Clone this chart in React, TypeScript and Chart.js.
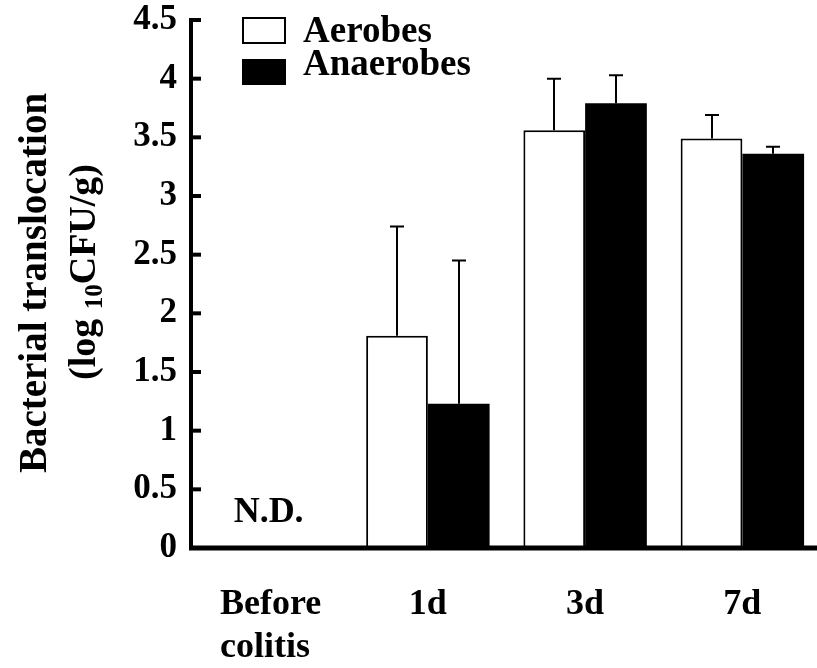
import React, { useEffect, useRef } from "react";
import { Chart, registerables } from "chart.js";

Chart.register(...registerables);

// Sampling days and measured bacterial counts (log10 CFU/g)
const categories: (string | string[])[] = [["Before", "colitis"], "1d", "3d", "7d"];
const aerobes: (number | null)[] = [null, 1.81, 3.56, 3.49];
const anaerobes: (number | null)[] = [null, 1.23, 3.79, 3.36];
const aerobesSem: (number | null)[] = [null, 0.93, 0.44, 0.2];
const anaerobesSem: (number | null)[] = [null, 1.22, 0.24, 0.06];
const yTickLabels = ["0", "0.5", "1", "1.5", "2", "2.5", "3", "3.5", "4", "4.5"];
const seriesNames = ["Aerobes", "Anaerobes"];
const notDetectedLabel = "N.D.";

const FONT = "'Liberation Serif', 'Times New Roman', serif";

const CANVAS_W = 821;
const CANVAS_H = 668;

const errorBarsPlugin = {
  id: "errorBars",
  afterDatasetsDraw(chart: any) {
    const { ctx } = chart;
    const yScale = chart.scales.y;
    const sems = [aerobesSem, anaerobesSem];
    const vals = [aerobes, anaerobes];
    ctx.save();
    ctx.strokeStyle = "#000";
    ctx.lineWidth = 2;
    ctx.lineCap = "butt";
    chart.data.datasets.forEach((_: any, di: number) => {
      const meta = chart.getDatasetMeta(di);
      meta.data.forEach((bar: any, j: number) => {
        const v = vals[di][j];
        const e = sems[di][j];
        if (v == null || e == null) return;
        const top = yScale.getPixelForValue(v + e);
        const x = Math.round(bar.x);
        ctx.beginPath();
        ctx.moveTo(x, bar.y);
        ctx.lineTo(x, top);
        ctx.moveTo(x - 7, top);
        ctx.lineTo(x + 7, top);
        ctx.stroke();
      });
    });
    ctx.restore();
  },
};

const decorPlugin = {
  id: "decor",
  afterDraw(chart: any) {
    const { ctx, chartArea } = chart;
    const xScale = chart.scales.x;
    const yScale = chart.scales.y;
    ctx.save();
    ctx.fillStyle = "#000";
    ctx.strokeStyle = "#000";

    // axes
    const axisX = chartArea.left - 1;
    ctx.lineWidth = 4;
    ctx.beginPath();
    ctx.moveTo(axisX, chartArea.top - 2);
    ctx.lineTo(axisX, chartArea.bottom + 2);
    ctx.stroke();
    ctx.lineWidth = 5;
    ctx.beginPath();
    ctx.moveTo(axisX - 2, chartArea.bottom);
    ctx.lineTo(chartArea.right, chartArea.bottom);
    ctx.stroke();

    // inward ticks on the value axis
    ctx.lineWidth = 4;
    yScale.ticks.forEach((t: any) => {
      const y = yScale.getPixelForValue(t.value);
      ctx.beginPath();
      ctx.moveTo(axisX, y);
      ctx.lineTo(axisX + 10, y);
      ctx.stroke();
    });

    // category labels, multi-line labels left-aligned as a block
    ctx.font = `bold 36px ${FONT}`;
    ctx.textBaseline = "alphabetic";
    ctx.textAlign = "left";
    categories.forEach((label, i) => {
      const lines = Array.isArray(label) ? label : [label];
      const cx = xScale.getPixelForValue(i);
      const maxW = Math.max(...lines.map((l) => ctx.measureText(l).width));
      const left = cx - maxW / 2;
      lines.forEach((l, k) => {
        ctx.fillText(l, left, chartArea.bottom + 66 + k * 43);
      });
    });

    // N.D. marker for the first group
    ctx.textAlign = "center";
    ctx.fillText(notDetectedLabel, xScale.getPixelForValue(0) - 2, yScale.getPixelForValue(0.22));

    // legend
    ctx.font = `bold 37px ${FONT}`;
    ctx.lineWidth = 2;
    ctx.fillStyle = "#fff";
    ctx.fillRect(243, 18, 42, 25);
    ctx.strokeRect(243, 18, 42, 25);
    ctx.fillStyle = "#000";
    ctx.fillRect(242, 59, 44, 26);
    ctx.textAlign = "left";
    ctx.fillText(seriesNames[0], 303, 42);
    ctx.fillText(seriesNames[1], 303, 75);

    // y axis title, two rotated lines with a subscript
    ctx.save();
    ctx.translate(46, 283);
    ctx.rotate(-Math.PI / 2);
    ctx.textAlign = "center";
    ctx.font = `bold 39px ${FONT}`;
    ctx.fillText("Bacterial translocation", 0, 0);
    ctx.restore();

    ctx.save();
    ctx.translate(95, 272);
    ctx.rotate(-Math.PI / 2);
    const partA = "(log ";
    const partSub = "10";
    const partB = "CFU/g)";
    ctx.font = `bold 38px ${FONT}`;
    const wA = ctx.measureText(partA).width;
    const wB = ctx.measureText(partB).width;
    ctx.font = `bold 25px ${FONT}`;
    const wS = ctx.measureText(partSub).width;
    const total = wA + wS + wB;
    let x0 = -total / 2;
    ctx.textAlign = "left";
    ctx.font = `bold 38px ${FONT}`;
    ctx.fillText(partA, x0, 0);
    x0 += wA;
    ctx.font = `bold 25px ${FONT}`;
    ctx.fillText(partSub, x0, 7);
    x0 += wS;
    ctx.font = `bold 38px ${FONT}`;
    ctx.fillText(partB, x0, 0);
    ctx.restore();

    ctx.restore();
  },
};

export default function App() {
  const canvasRef = useRef<HTMLCanvasElement | null>(null);

  useEffect(() => {
    if (!canvasRef.current) return;
    const chart = new Chart(canvasRef.current, {
      type: "bar",
      data: {
        labels: categories as any,
        datasets: [
          {
            label: seriesNames[0],
            data: aerobes as any,
            backgroundColor: "#fff",
            borderColor: "#000",
            borderWidth: 2,
            borderSkipped: "bottom",
          },
          {
            label: seriesNames[1],
            data: anaerobes as any,
            backgroundColor: "#000",
            borderColor: "#000",
            borderWidth: 0,
          },
        ],
      },
      options: {
        responsive: false,
        animation: false,
        devicePixelRatio: 1,
        layout: { padding: { top: 20, left: 0, right: 0, bottom: 0 } },
        datasets: {
          bar: { categoryPercentage: 0.785, barPercentage: 1 },
        },
        plugins: {
          legend: { display: false },
          tooltip: { enabled: false },
        },
        scales: {
          x: {
            type: "category",
            offset: true,
            grid: { display: false, drawTicks: false },
            border: { display: false },
            ticks: { display: false },
            afterFit(scale: any) {
              scale.height = 120;
              scale.paddingLeft = 0;
              scale.paddingRight = 0;
            },
          },
          y: {
            min: 0,
            max: 4.5,
            grid: { display: false, drawTicks: false },
            border: { display: false },
            ticks: {
              stepSize: 0.5,
              color: "#000",
              font: { family: FONT, size: 35, weight: "bold", lineHeight: 1 },
              padding: 15,
              callback: (_v: any, i: number) => yTickLabels[i],
            },
            afterFit(scale: any) {
              scale.width = 192;
              scale.paddingTop = 0;
              scale.paddingBottom = 0;
            },
          },
        },
      },
      plugins: [errorBarsPlugin, decorPlugin],
    });
    return () => chart.destroy();
  }, []);

  return (
    <div
      style={{
        position: "fixed",
        left: 0,
        top: 0,
        width: 817,
        height: 668,
        overflow: "hidden",
        background: "#fff",
      }}
    >
      <canvas
        ref={canvasRef}
        width={CANVAS_W}
        height={CANVAS_H}
        style={{ display: "block", width: CANVAS_W, height: CANVAS_H }}
      />
    </div>
  );
}
